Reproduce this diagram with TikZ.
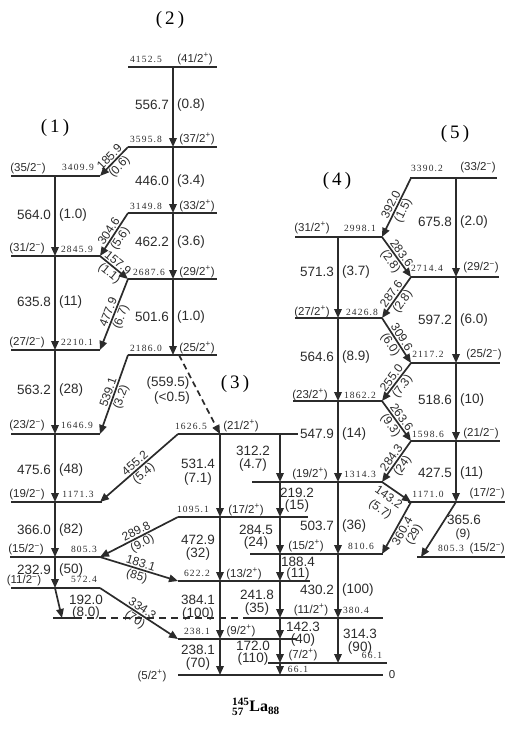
\documentclass[tikz,border=0pt]{standalone}
\usepackage{fontspec}
\setmainfont{Liberation Serif}
\newfontfamily\labf{Liberation Sans}
\newfontfamily\levf[LetterSpace=12]{Liberation Serif}
\usetikzlibrary{arrows.meta}
\definecolor{ink}{HTML}{2B2B2B}
\newcommand\spinP[1]{(#1/2\textsuperscript{+})}
\newcommand\spinM[1]{(#1/2\textsuperscript{−})}
% side-by-side label: name, x of arrow, y, energy, intensity
\newcommand\sbs[5]{\node[tl,anchor=east] (#1e) at (#2-4,#3) {#4};\node[tl,anchor=west] (#1i) at (#2+4,#3) {#5};}
% stacked label: name, x, y1, y2, energy, intensity
\newcommand\stk[6]{\node[tl] (#1e) at (#2,#3) {#5};\node[tl] (#1i) at (#2,#4) {#6};}
% diagonal label: name, left end, right end, above, below
\newcommand\dlab[5]{\path (#2) -- node[tld,sloped,above=2pt] (#1e) {#4} node[tld,sloped,below=2pt] (#1i) {#5} (#3);}
\begin{document}
\begin{tikzpicture}[x=1pt,y=-1pt,
 lev/.style={line width=2.3pt,draw=ink},
 tr/.style={line width=1.7pt,draw=ink,-{Triangle[length=9pt,width=7.5pt]}},
 dtr/.style={tr,dash pattern=on 6pt off 4pt},
 tl/.style={font=\labf\fontsize{13.5}{14}\selectfont,text=ink,inner sep=0pt},
 tld/.style={font=\labf\fontsize{12}{13}\selectfont,text=ink,inner sep=0pt},
 spn/.style={font=\labf\fontsize{11.5}{12}\selectfont,text=ink,inner sep=0pt},
 en/.style={font=\levf\fontsize{9.5}{10}\selectfont,text=ink,inner sep=0pt},
 bnd/.style={font=\fontsize{19}{20}\selectfont,text=black,inner sep=0pt}]
\useasboundingbox (0,0) rectangle (505,729);
% columns
\coordinate (cA) at (55,0);
\coordinate (cB) at (100,0);
\coordinate (cC) at (128,0);
\coordinate (cD) at (173,0);
\coordinate (c3L) at (178,0);
\coordinate (c3a) at (220,0);
\coordinate (c3b) at (280,0);
\coordinate (c4a) at (338,0);
\coordinate (c4R) at (382,0);
\coordinate (c5L) at (411,0);
\coordinate (c5a) at (456,0);
% levels
\coordinate (L4152) at (0,67);
\coordinate (L3596) at (0,147);
\coordinate (L3410) at (0,176);
\coordinate (L3150) at (0,213);
\coordinate (L2846) at (0,256);
\coordinate (L2688) at (0,279);
\coordinate (L2210) at (0,350);
\coordinate (L2186) at (0,355);
\coordinate (L1647) at (0,434);
\coordinate (L1627) at (0,434);
\coordinate (L1171) at (0,502);
\coordinate (L1095) at (0,517);
\coordinate (L805) at (0,557);
\coordinate (L622) at (0,581);
\coordinate (L572) at (0,588);
\coordinate (L380) at (0,618);
\coordinate (L238) at (0,639);
\coordinate (L0) at (0,675);
\coordinate (L2998) at (0,237);
\coordinate (L2427) at (0,318);
\coordinate (L1862) at (0,401);
\coordinate (L1314) at (0,482);
\coordinate (L811) at (0,554);
\coordinate (L66) at (0,663);
\coordinate (L3390) at (0,178);
\coordinate (L2714) at (0,277);
\coordinate (L2117) at (0,363);
\coordinate (L1599) at (0,441);
% level lines
\foreach \L/\a/\b in {L4152/128/217,L3596/128/217,L3410/11/100,L3150/128/217,
  L2846/11/100,L2688/128/217,L2210/11/100,L2186/128/217,L1647/11/100,
  L1627/178/298,L1171/11/102,L1171/408/505,L1095/178/308,L805/10/100,L805/417/505,
  L622/178/310,L572/11/100,L380/53/75,L380/250/383,L238/178/297,L0/178/383,
  L2998/295/382,L2427/295/382,L1862/293/382,L1314/252/383,L811/250/383,L66/268/387,
  L3390/410/497,L2714/411/499,L2117/411/500,L1599/411/500}
  \draw[lev] (\L -| \a,0) -- (\L -| \b,0);
\draw[line width=1.6pt,draw=ink,dash pattern=on 7pt off 5pt] (L380 -| 75,0) -- (L380 -| 250,0);
% vertical transitions
\foreach \a/\b in {L4152/L3596,L3596/L3150,L3150/L2688,L2688/L2186}
  \draw[tr] (\a -| cD) -- (\b -| cD);
\foreach \a/\b in {L3410/L2846,L2846/L2210,L2210/L1647,L1647/L1171,L1171/L805,L805/L572}
  \draw[tr] (\a -| cA) -- (\b -| cA);
\foreach \a/\b in {L1627/L1095,L1095/L622,L622/L238,L238/L0}
  \draw[tr] (\a -| c3a) -- (\b -| c3a);
\foreach \a/\b in {L1627/L1314,L1314/L1095,L1095/L811,L811/L622,L622/L380,L380/L238,L238/L66,L66/L0}
  \draw[tr] (\a -| c3b) -- (\b -| c3b);
\foreach \a/\b in {L2998/L2427,L2427/L1862,L1862/L1314,L1314/L811,L811/L380,L380/L66}
  \draw[tr] (\a -| c4a) -- (\b -| c4a);
\foreach \a/\b in {L3390/L2714,L2714/L2117,L2117/L1599,L1599/L1171}
  \draw[tr] (\a -| c5a) -- (\b -| c5a);
% diagonal transitions
\draw[tr] (L3596 -| cC) -- (L3410 -| cB);
\draw[tr] (L3150 -| cC) -- (L2846 -| cB);
\draw[tr] (L2846 -| cB) -- (L2688 -| cC);
\draw[tr] (L2688 -| cC) -- (L2210 -| cB);
\draw[tr] (L2186 -| cC) -- (L1647 -| cB);
\draw[tr] (L1627 -| c3L) -- (L1171 -| cB);
\draw[tr] (L1095 -| c3L) -- (L805 -| cB);
\draw[tr] (L805 -| cB) -- (L622 -| c3L);
\draw[tr] (L572 -| cB) -- (L238 -| c3L);
\draw[tr] (L572 -| cA) -- (L380 -| 62,0);
\draw[dtr] (L2186 -| 179,0) -- (L1627 -| c3a);
\draw[tr] (L3390 -| c5L) -- (L2998 -| c4R);
\draw[tr] (L2998 -| c4R) -- (L2714 -| c5L);
\draw[tr] (L2714 -| c5L) -- (L2427 -| c4R);
\draw[tr] (L2427 -| c4R) -- (L2117 -| c5L);
\draw[tr] (L2117 -| c5L) -- (L1862 -| c4R);
\draw[tr] (L1862 -| c4R) -- (L1599 -| c5L);
\draw[tr] (L1599 -| c5L) -- (L1314 -| c4R);
\draw[tr] (L1314 -| c4R) -- (L1171 -| c5L);
\draw[tr] (L1171 -| c5L) -- (L811 -| c4R);
\draw[tr] (L1171 -| c5a) -- (L805 -| 421,0);
% diagonal labels
\dlab{d185}{L3410 -| cB}{L3596 -| cC}{185.9}{(0.6)}
\dlab{d304}{L2846 -| cB}{L3150 -| cC}{304.6}{(5.6)}
\dlab{d157}{L2846 -| cB}{L2688 -| cC}{157.9}{(1.1)}
\dlab{d477}{L2210 -| cB}{L2688 -| cC}{477.9}{(6.7)}
\dlab{d539}{L1647 -| cB}{L2186 -| cC}{539.1}{(3.2)}
\dlab{d455}{L1171 -| cB}{L1627 -| c3L}{455.2}{(5.4)}
\dlab{d289}{L805 -| cB}{L1095 -| c3L}{289.8}{(9.0)}
\dlab{d183}{L805 -| cB}{L622 -| c3L}{183.1}{(85)}
\dlab{d334}{L572 -| cB}{L238 -| c3L}{334.3}{(70)}
\dlab{d392}{L2998 -| c4R}{L3390 -| c5L}{392.0}{(1.5)}
\dlab{d283}{L2998 -| c4R}{L2714 -| c5L}{283.6}{(2.8)}
\dlab{d287}{L2427 -| c4R}{L2714 -| c5L}{287.6}{(2.8)}
\dlab{d309}{L2427 -| c4R}{L2117 -| c5L}{309.6}{(6.0)}
\dlab{d255}{L1862 -| c4R}{L2117 -| c5L}{255.0}{(7.3)}
\dlab{d263}{L1862 -| c4R}{L1599 -| c5L}{263.6}{(9.3)}
\dlab{d284}{L1314 -| c4R}{L1599 -| c5L}{284.3}{(24)}
\path (L1314 -| c4R) -- node[tld,sloped,below=4pt,pos=0.4] (d143e) {143.2}
  node[tld,sloped,below=18pt,pos=0.4] (d143i) {(5.7)} (L1171 -| c5L);
\path (L811 -| c4R) -- node[tld,sloped,below=2pt] (d360e) {360.4}
  node[tld,sloped,below=13pt,pos=0.55] (d360i) {(29)} (L1171 -| c5L);
\node[tl] (d365e) at (464,520) {365.6};
\node[tld] (d365i) at (463,534) {(9)};
\node[tl] (d192e) at (86,600) {192.0};
\node[tl] (d192i) at (86,613) {(8.0)};
\node[tl] (d559e) at (168,383) {(559.5)};
\node[tl] (d559i) at (172,398) {(<0.5)};
% vertical labels
\sbs{t556}{173}{105}{556.7}{(0.8)}
\sbs{t446}{173}{181}{446.0}{(3.4)}
\sbs{t462}{173}{242}{462.2}{(3.6)}
\sbs{t501}{173}{317}{501.6}{(1.0)}
\sbs{t564}{55}{215}{564.0}{(1.0)}
\sbs{t635}{55}{302}{635.8}{(11)}
\sbs{t563}{55}{390}{563.2}{(28)}
\sbs{t475}{55}{470}{475.6}{(48)}
\sbs{t366}{55}{530}{366.0}{(82)}
\sbs{t232}{55}{570}{232.9}{(50)}
\sbs{t571}{338}{272}{571.3}{(3.7)}
\sbs{t5646}{338}{357}{564.6}{(8.9)}
\sbs{t547}{338}{434}{547.9}{(14)}
\sbs{t503}{338}{526}{503.7}{(36)}
\sbs{t430}{338}{590}{430.2}{(100)}
\sbs{t675}{456}{222}{675.8}{(2.0)}
\sbs{t597}{456}{320}{597.2}{(6.0)}
\sbs{t518}{456}{400}{518.6}{(10)}
\sbs{t427}{456}{473}{427.5}{(11)}
\stk{t531}{198}{464}{479}{531.4}{(7.1)}
\stk{t472}{198}{540}{554}{472.9}{(32)}
\stk{t384}{198}{600}{614}{384.1}{(100)}
\stk{t2381}{198}{650}{664}{238.1}{(70)}
\stk{t312}{253}{451}{465}{312.2}{(4.7)}
\stk{t219}{297}{493}{506}{219.2}{(15)}
\stk{t2845}{256}{530}{543}{284.5}{(24)}
\stk{t188}{298}{562}{574}{188.4}{(11)}
\stk{t241}{257}{595}{609}{241.8}{(35)}
\stk{t142}{303}{627}{640}{142.3}{(40)}
\stk{t172}{253}{646}{659}{172.0}{(110)}
\stk{t314}{360}{634}{648}{314.3}{(90)}
% level energies and spins
\node[en] (e4152) at (146,59) {4152.5};  \node[spn] (s4152) at (195,59) {\spinP{41}};
\node[en] (e3596) at (146,139) {3595.8}; \node[spn] (s3596) at (197,139) {\spinP{37}};
\node[en] (e3150) at (146,206) {3149.8}; \node[spn] (s3150) at (197,206) {\spinP{33}};
\node[en] (e2688) at (149,272) {2687.6}; \node[spn] (s2688) at (197,272) {\spinP{29}};
\node[en] (e2186) at (146,348) {2186.0}; \node[spn] (s2186) at (197,348) {\spinP{25}};
\node[spn] (s3410) at (28,169) {\spinM{35}}; \node[en] (e3410) at (78,167) {3409.9};
\node[spn] (s2846) at (27,249) {\spinM{31}}; \node[en] (e2846) at (77,249) {2845.9};
\node[spn] (s2210) at (27,343) {\spinM{27}}; \node[en] (e2210) at (77,342) {2210.1};
\node[spn] (s1647) at (27,426) {\spinM{23}}; \node[en] (e1647) at (77,425) {1646.9};
\node[spn] (s1171) at (27,495) {\spinM{19}}; \node[en] (e1171) at (78,494) {1171.3};
\node[spn] (s805) at (26,550) {\spinM{15}}; \node[en] (e805) at (84,549) {805.3};
\node[spn] (s572) at (24,581) {\spinM{11}}; \node[en] (e572) at (84,579) {572.4};
\node[en] (e1627) at (191,426) {1626.5}; \node[spn] (s1627) at (241,426) {\spinP{21}};
\node[en] (e1095) at (193,509) {1095.1}; \node[spn] (s1095) at (246,510) {\spinP{17}};
\node[en] (e622) at (197,573) {622.2}; \node[spn] (s622) at (244,574) {\spinP{13}};
\node[en] (e238) at (197,631) {238.1}; \node[spn] (s238) at (241,631) {\spinP{9}};
\node[spn] (s0) at (152,676) {\spinP{5}}; \node[spn] (e0) at (392,675) {0};
\node[spn] (s1314) at (310,474) {\spinP{19}}; \node[en] (e1314) at (360,474) {1314.3};
\node[spn] (s811) at (306,546) {\spinP{15}}; \node[en] (e811) at (361,546) {810.6};
\node[spn] (s380) at (311,610) {\spinP{11}}; \node[en] (e380) at (356,610) {380.4};
\node[spn] (s66) at (303,655) {\spinP{7}}; \node[en] (e66) at (372,655) {66.1};
\node[en] (t66e) at (298,669) {66.1};
\node[spn] (s2998) at (312,228) {\spinP{31}}; \node[en] (e2998) at (360,228) {2998.1};
\node[spn] (s2427) at (312,312) {\spinP{27}}; \node[en] (e2427) at (362,312) {2426.8};
\node[spn] (s1862) at (310,395) {\spinP{23}}; \node[en] (e1862) at (360,395) {1862.2};
\node[en] (e3390) at (427,168) {3390.2}; \node[spn] (s3390) at (478,168) {\spinM{33}};
\node[en] (e2714) at (427,268) {2714.4}; \node[spn] (s2714) at (481,268) {\spinM{29}};
\node[en] (e2117) at (428,354) {2117.2}; \node[spn] (s2117) at (484,355) {\spinM{25}};
\node[en] (e1599) at (428,434) {1598.6}; \node[spn] (s1599) at (481,434) {\spinM{21}};
\node[en] (e1171b) at (428,494) {1171.0}; \node[spn,anchor=east] (s1171b) at (505,494) {\spinM{17}};
\node[en] (e805b) at (451,548) {805.3}; \node[spn,anchor=east] (s805b) at (505,549) {\spinM{15}};
% band labels
\node[bnd] (b1) at (55,128) {(\,1\,)};
\node[bnd] (b2) at (170,20) {(\,2\,)};
\node[bnd] (b3) at (235,384) {(\,3\,)};
\node[bnd] (b4) at (337,181) {(\,4\,)};
\node[bnd] (b5) at (455,134) {(\,5\,)};
% nucleus
\node[font=\bfseries\fontsize{16}{16}\selectfont,inner sep=0pt] (nuc) at (256,707)
  {$^{\mathbf{145}}_{\mathbf{57}}$La$_{\mathbf{88}}$};
\end{tikzpicture}
\end{document}
